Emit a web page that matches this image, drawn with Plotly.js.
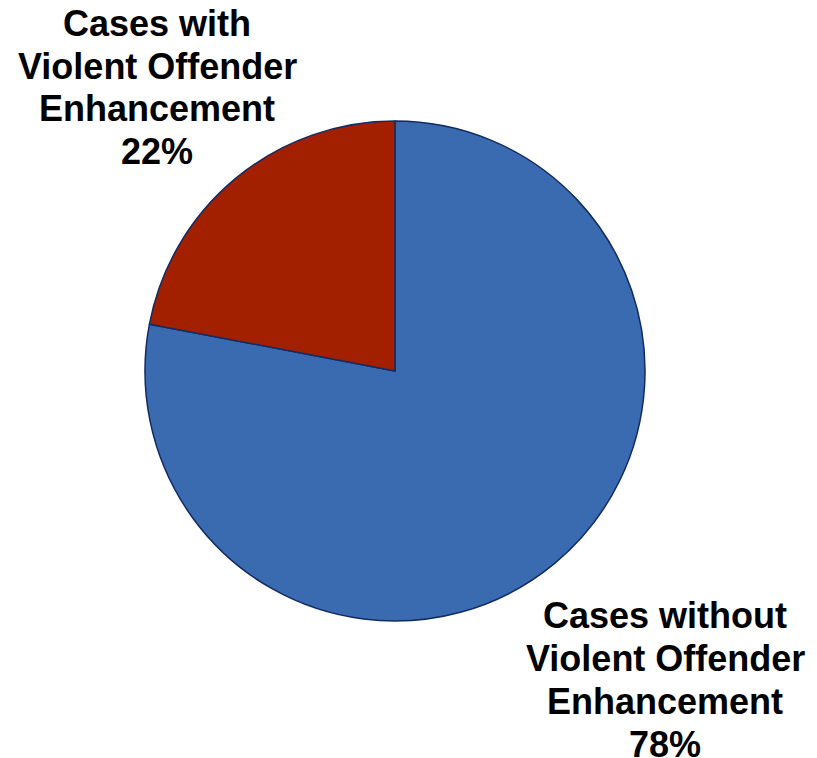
<!DOCTYPE html>
<html>
<head>
<meta charset="utf-8">
<script src="https://cdn.plot.ly/plotly-3.0.1.min.js"></script>
<style>html,body{margin:0;padding:0;background:#fff;}#chart{width:817px;height:758px;}</style>
</head>
<body>
<div id="chart"></div>
<script>
const labels = ["Cases without Violent Offender Enhancement", "Cases with Violent Offender Enhancement"];
const labelLines = [["Cases without", "Violent Offender", "Enhancement"], ["Cases with", "Violent Offender", "Enhancement"]];
const values = [78, 22];
const colors = ["#3A6AB0", "#A21F00"];

const W = 817, H = 758;
const cx = 395, cy = 371, r = 250;

const data = [{
  type: "pie",
  labels: labels,
  values: values,
  sort: false,
  direction: "clockwise",
  rotation: 0,
  textinfo: "none",
  hoverinfo: "label+percent",
  marker: { colors: colors, line: { color: "#132B63", width: 1.5 } },
  domain: { x: [(cx - r) / W, (cx + r) / W], y: [1 - (cy + r) / H, 1 - (cy - r) / H] },
  showlegend: false
}];

const labelX = [665, 157];
const firstLineY = [615, 23];
const lineStep = 43;
const annotations = [];
labelLines.forEach((lines, i) => {
  const all = lines.concat([values[i] + "%"]);
  all.forEach((t, j) => {
    annotations.push({
      text: "<b>" + t + "</b>",
      x: labelX[i] / W, y: 1 - (firstLineY[i] + j * lineStep) / H,
      xref: "paper", yref: "paper",
      xanchor: "center", yanchor: "middle",
      showarrow: false, align: "center",
      font: { family: "Liberation Sans, Arial, sans-serif", size: 36, color: "#000" }
    });
  });
});

const layout = {
  width: W, height: H,
  margin: { l: 0, r: 0, t: 0, b: 0 },
  paper_bgcolor: "#fff",
  annotations: annotations
};
Plotly.newPlot("chart", data, layout, { displayModeBar: false, staticPlot: true });
</script>
</body>
</html>
